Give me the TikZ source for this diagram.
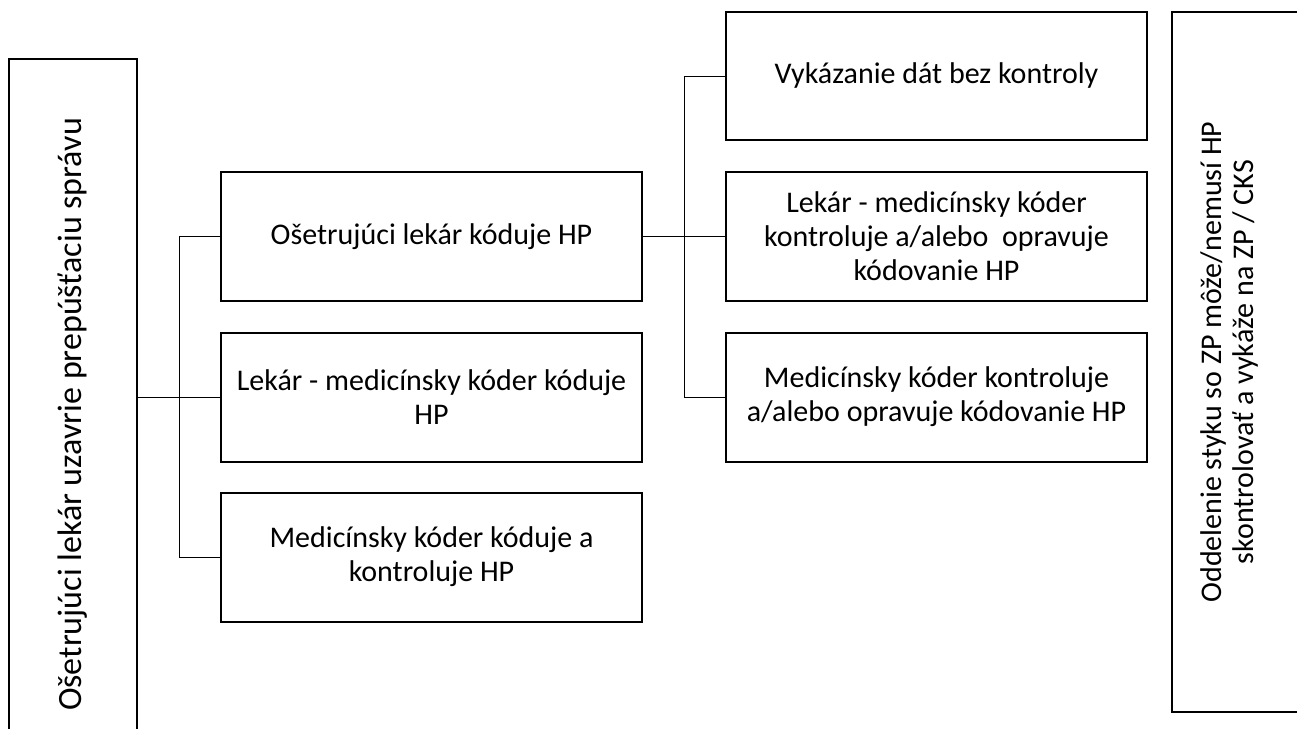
\documentclass[tikz,border=0pt]{standalone}
\usepackage{fontspec}
\setmainfont{Carlito}
\begin{document}
\begin{tikzpicture}[x=1pt,y=-1pt,
  box/.style={draw=black,line width=2pt,rectangle,align=center,inner sep=0pt,
    font=\fontsize{30}{34}\selectfont},
  midbox/.style={box,minimum width=421pt,minimum height=129pt},
  conn/.style={draw=black,line width=1pt}]
\useasboundingbox (0,0) rectangle (1297,728);
% left tall box
\node[box,rotate=90,minimum width=711pt,minimum height=128pt,
  font=\fontsize{34}{40}\selectfont] (L) at (73,414.5)
  {Ošetrujúci lekár uzavrie prepúšťaciu správu};
% middle column
\node[midbox] (M1) at (431.5,236.5) {Ošetrujúci lekár kóduje HP};
\node[midbox] (M2) at (431.5,397) {Lekár - medicínsky kóder kóduje\\HP};
\node[midbox] (M3) at (431.5,557) {Medicínsky kóder kóduje a\\kontroluje HP};
% right column
\node[midbox,minimum height=128pt] (R1) at (936.5,76) {Vykázanie dát bez kontroly};
\node[midbox] (R2) at (936.5,236.5) {Lekár - medicínsky kóder\\kontroluje a/alebo\ \ opravuje\\kódovanie HP};
\node[midbox] (R3) at (936.5,397) {Medicínsky kóder kontroluje\\a/alebo opravuje kódovanie HP};
% far right box
\node[box,minimum width=140pt,minimum height=700pt] (F) at (1242,362) {};
\node[font=\fontsize{30}{32}\selectfont,align=center,rotate=90,inner sep=0pt] (FT) at (1229,362)
  {Oddelenie styku so ZP môže/nemusí HP\\skontrolovať a vykáže na ZP / CKS};
% connectors
\coordinate (lb) at (179,0);
\coordinate (rb) at (684,0);
\draw[conn] (L.south |- M2.west) -- (M2.west);
\draw[conn] (M1.west) -| (lb |- M3.west) -- (M3.west);
\draw[conn] (M1.east) -- (R2.west);
\draw[conn] (R1.west) -| (rb |- R3.west) -- (R3.west);
\end{tikzpicture}
\end{document}
